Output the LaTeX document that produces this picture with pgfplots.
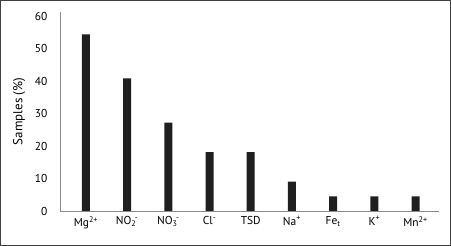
\documentclass[border=0pt]{standalone}
\usepackage{fontspec}
\setmainfont{PT Sans}
\usepackage{pgfplots}
\pgfplotsset{compat=1.18}
\newcommand{\supsub}[2]{\textsubscript{#2}\kern-0.12em\textsuperscript{#1}}
\begin{document}
\begin{tikzpicture}
\begin{axis}[
  at={(0,0)}, anchor=south west,
  scale only axis, width=379bp, height=199bp,
  xmin=-0.63, xmax=8.57, ymin=0, ymax=61.4,
  axis x line*=bottom, axis y line*=left,
  axis line style={draw=black!45, line width=0.9pt, -},
  ytick={0,10,...,60},
  xtick={0,...,8},
  xticklabels={Mg\textsuperscript{2+}, NO\supsub{-}{2}, NO\supsub{-}{3}, Cl\textsuperscript{-}, TSD, Na\textsuperscript{+}, Fe\textsubscript{t}, K\textsuperscript{+}, Mn\textsuperscript{2+}},
  major tick length=0pt, tick style={draw=none},
  /pgf/number format/assume math mode=true,
  tick label style={font=\fontsize{11.5}{13}\selectfont},
  yticklabel style={xshift=-9bp},
  xticklabel style={yshift=-2bp, anchor=north},
  ylabel={Samples (\%)},
  ylabel style={at={(axis description cs:-0.108,0.5)}, anchor=center, font=\fontsize{13}{15}\selectfont},
  ybar, bar width=8bp,
]
\addplot[fill=black!88, draw=none] coordinates {
 (0,54.5) (1,40.9) (2,27.3) (3,18.2) (4,18.2) (5,9.1) (6,4.5) (7,4.5) (8,4.5)};
\end{axis}
\draw[line width=1.5bp, black!75] (-59.25bp,-34.25bp) rectangle (390.25bp,210.25bp);
\end{tikzpicture}
\end{document}
